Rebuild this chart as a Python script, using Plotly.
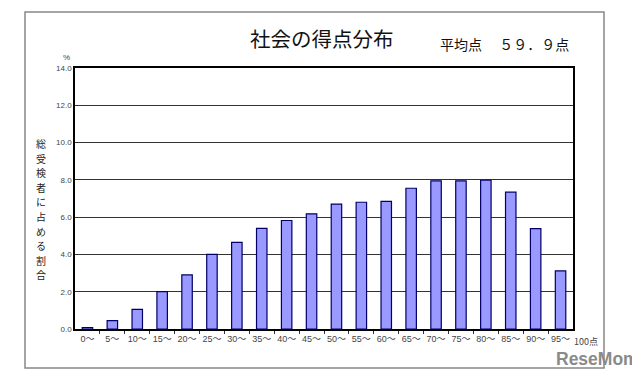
import plotly.graph_objects as go

categories = [0, 5, 10, 15, 20, 25, 30, 35, 40, 45, 50, 55, 60, 65, 70, 75, 80, 85, 90, 95]
tick_labels = ["0～", "5～", "10～", "15～", "20～", "25～", "30～", "35～", "40～", "45～",
               "50～", "55～", "60～", "65～", "70～", "75～", "80～", "85～", "90～", "95～"]
values = [0.08, 0.45, 1.05, 2.0, 2.9, 4.0, 4.65, 5.4, 5.82, 6.18,
          6.7, 6.8, 6.85, 7.55, 7.95, 7.95, 7.98, 7.34, 5.38, 3.12]
y_ticks = [0, 2, 4, 6, 8, 10, 12, 14]
title_text = "社会の得点分布"
mean_text = "平均点　 ５９．９点"
y_title = "総受検者に占める割合"
end_label = "100点"

W, H = 640, 373
L, R, T, B = 67, 565, 60, 321
pw, ph = R - L, B - T

def px(x):
    return (x - L) / pw

def py(y):
    return (B - y) / ph

font_fam = "Liberation Sans, Noto Sans CJK JP, sans-serif"
jp_font = "Noto Sans CJK JP, sans-serif"

fig = go.Figure()
fig.add_trace(go.Bar(
    x=categories, y=values,
    marker=dict(color="#9999FF", line=dict(color="#000066", width=1.2)),
    width=2.1,
    hoverinfo="skip",
))

fig.update_layout(
    width=W, height=H,
    margin=dict(l=L, r=W - R, t=T, b=H - B),
    paper_bgcolor="white", plot_bgcolor="white",
    showlegend=False,
    font=dict(family=font_fam, color="#333333"),
    xaxis=dict(
        range=[-2.5, 97.5],
        tickmode="array", tickvals=categories, ticktext=tick_labels,
        ticks="", showgrid=False, zeroline=False,
        showline=True, linecolor="black", linewidth=1.5, mirror=True,
        tickfont=dict(size=9, color="#444444", family=font_fam),
        minor=dict(tickmode="array", tickvals=[c + 2.5 for c in categories[:-1]],
                   ticks="outside", ticklen=3, tickcolor="#333333", showgrid=False),
        fixedrange=True,
    ),
    yaxis=dict(
        range=[0, 14],
        tickmode="array", tickvals=y_ticks, tickformat=".1f",
        ticks="", showgrid=True, gridcolor="#333333", gridwidth=1,
        zeroline=False,
        showline=True, linecolor="black", linewidth=1.5, mirror=True,
        tickfont=dict(size=8, color="#444444", family=font_fam),
        fixedrange=True,
    ),
)

annotations = [
    dict(text=title_text, x=px(313.5), y=py(30), xref="paper", yref="paper",
         showarrow=False, font=dict(size=20.5, color="#111111", family=jp_font),
         xanchor="center", yanchor="middle"),
    dict(text=mean_text, x=px(430), y=py(36), xref="paper", yref="paper",
         showarrow=False, font=dict(size=14, color="#111111", family=jp_font),
         xanchor="left", yanchor="middle"),
    dict(text="%", x=px(58), y=py(49), xref="paper", yref="paper",
         showarrow=False, font=dict(size=8, color="#444444", family=font_fam),
         xanchor="center", yanchor="middle"),
    dict(text=end_label, x=px(578), y=py(333), xref="paper", yref="paper",
         showarrow=False, font=dict(size=9, color="#444444", family=jp_font),
         xanchor="center", yanchor="middle"),
    dict(text="<b>ReseMom</b>", x=px(633), y=py(351), xref="paper", yref="paper",
         showarrow=False, font=dict(size=17.5, color="#8a8a8a", family="Liberation Sans, sans-serif"),
         xanchor="right", yanchor="middle"),
]
for i, ch in enumerate(y_title):
    annotations.append(dict(text=ch, x=px(33), y=py(135.5 + i * 14.6), xref="paper", yref="paper",
                            showarrow=False, borderpad=0,
                            font=dict(size=10, color="#222222", family=jp_font),
                            xanchor="center", yanchor="middle"))
fig.update_layout(annotations=annotations)

fig.add_shape(type="rect", xref="paper", yref="paper",
              x0=px(17), x1=px(596), y0=py(360), y1=py(4),
              line=dict(color="#888888", width=1.5), layer="below")

fig.write_html("out.html")
